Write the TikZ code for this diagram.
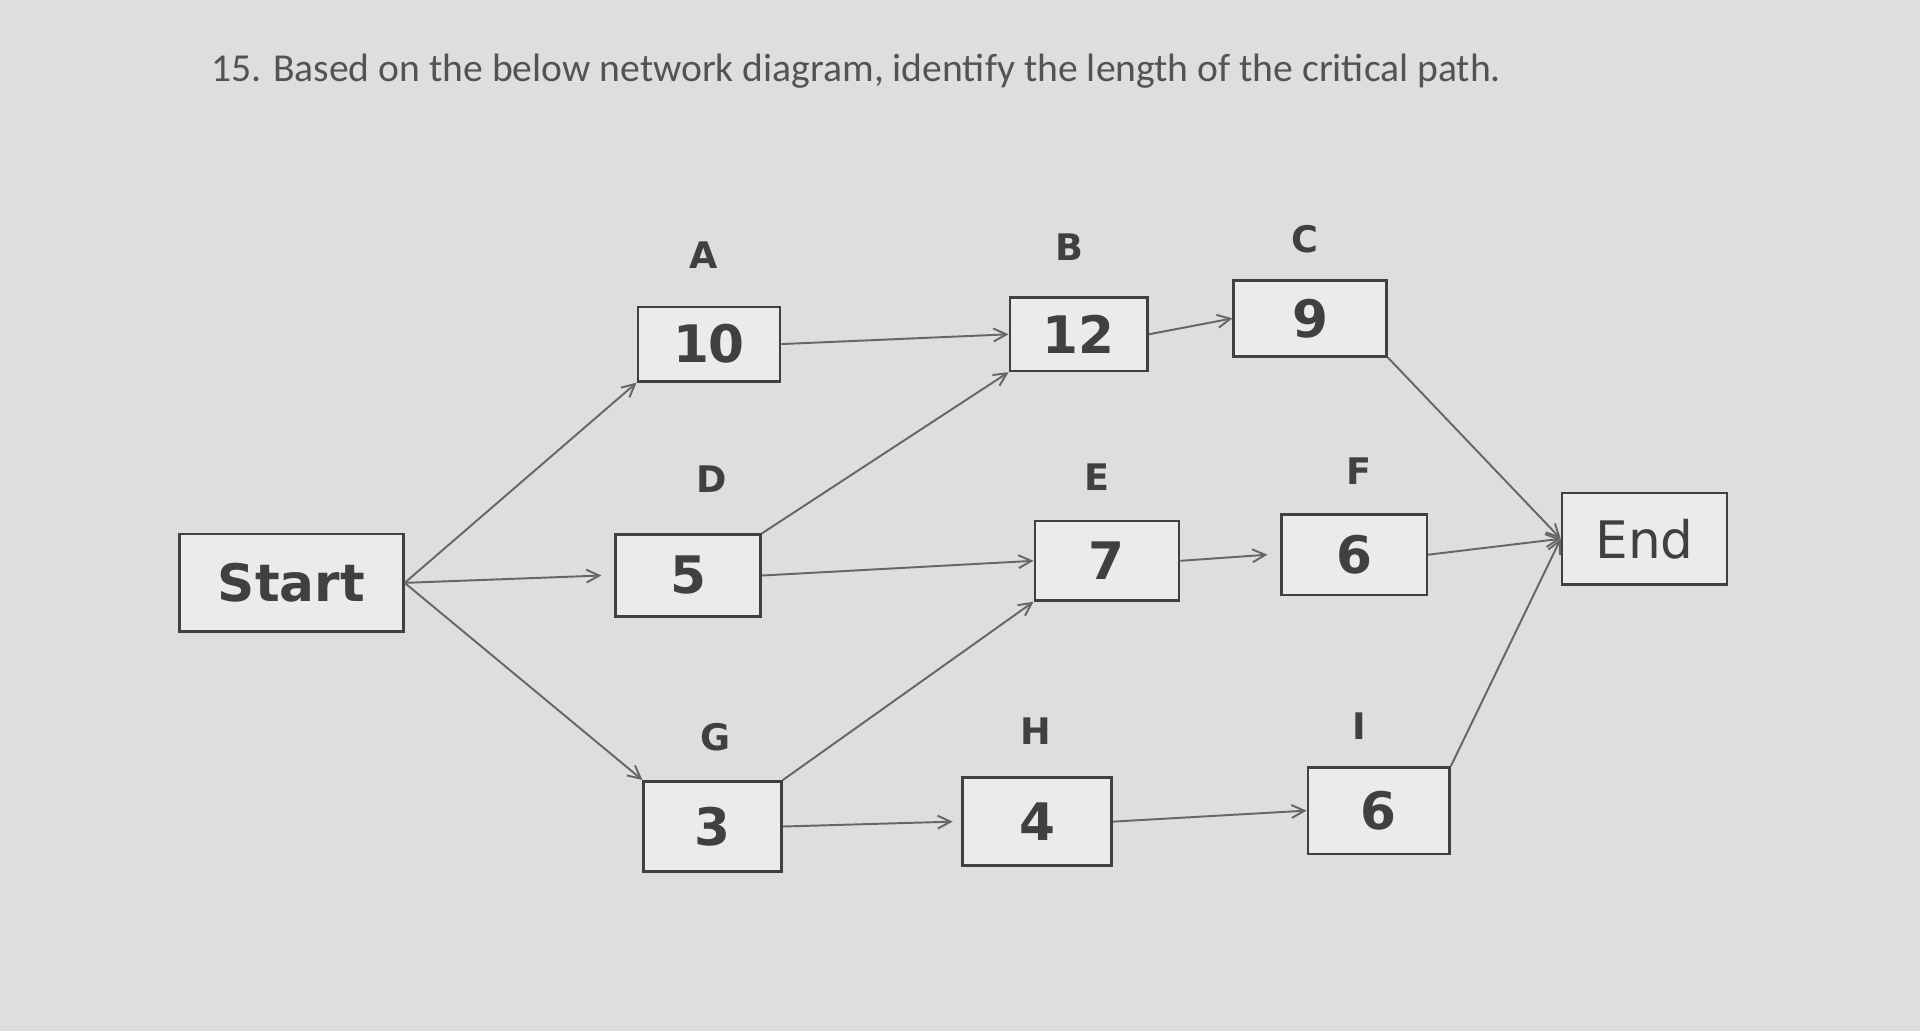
\documentclass[tikz,border=0pt]{standalone}
\usepackage{fontspec}
\setmainfont{DejaVu Sans}
\newfontfamily\titlefont{Carlito}
\usetikzlibrary{arrows.meta}
\definecolor{bg}{HTML}{DCDFDD}
\definecolor{ink}{HTML}{404040}
\begin{document}
\begin{tikzpicture}[x=0.01cm,y=-0.01cm,
  box/.style={draw=ink,line width=0.6pt,fill=bg!60!white,text=ink,font=\bfseries\fontsize{12}{14}\selectfont,inner sep=0pt},
  lab/.style={text=ink,font=\bfseries\fontsize{8.5}{10}\selectfont},
  conn/.style={draw=ink!80,line width=0.45pt,-{Straight Barb[length=3pt,width=3pt]}}]
\fill[bg] (0,0) rectangle (1568,842);
\useasboundingbox (0,0) rectangle (1568,842);
\node[anchor=west,text=ink!90,font=\titlefont\fontsize{9.2}{11}\selectfont] (title) at (160,58) {15. Based on the below network diagram, identify the length of the critical path.};
\node[box,minimum width=52pt,minimum height=22.7pt] (S) at (238,476) {Start};
\node[box,minimum width=33pt,minimum height=17.3pt] (A) at (579,281) {10};
\node[box,minimum width=32pt,minimum height=17pt] (B) at (881,273) {12};
\node[box,minimum width=35.5pt,minimum height=17.6pt] (C) at (1070,260) {9};
\node[box,minimum width=33.7pt,minimum height=19pt] (D) at (562,470) {5};
\node[box,minimum width=33.5pt,minimum height=18.4pt] (E) at (904,458) {7};
\node[box,minimum width=33.7pt,minimum height=18.7pt] (F) at (1106,453) {6};
\node[box,minimum width=38.3pt,minimum height=21.3pt,font=\fontsize{12}{14}\selectfont] (End) at (1343,440) {End};
\node[box,minimum width=32pt,minimum height=21pt] (G) at (582,675) {3};
\node[box,minimum width=34.6pt,minimum height=20.4pt] (H) at (847,671) {4};
\node[box,minimum width=32.9pt,minimum height=20.1pt] (I) at (1126,662) {6};
\node[lab] (lA) at (575,208) {A};
\node[lab] (lB) at (873,202) {B};
\node[lab] (lC) at (1066,195) {C};
\node[lab] (lD) at (581,391) {D};
\node[lab] (lE) at (896,390) {E};
\node[lab] (lF) at (1110,385) {F};
\node[lab] (lG) at (584,602) {G};
\node[lab] (lH) at (846,597) {H};
\node[lab] (lI) at (1110,593) {I};
\draw[conn] (S.east) -- (A.south west);
\draw[conn] (S.east) -- ([xshift=-3pt]D.west);
\draw[conn] (S.east) -- (G.north west);
\draw[conn] (A.east) -- (B.west);
\draw[conn] (B.east) -- (C.west);
\draw[conn] (D.north east) -- (B.south west);
\draw[conn] (D.east) -- (E.west);
\draw[conn] (G.north east) -- (E.south west);
\draw[conn] (G.east) -- ([xshift=-2pt]H.west);
\draw[conn] (E.east) -- ([xshift=-3pt]F.west);
\draw[conn] (H.east) -- (I.west);
\draw[conn] (C.south east) -- (End.west);
\draw[conn] (F.east) -- (End.west);
\draw[conn] (I.north east) -- (End.west);
\end{tikzpicture}
\end{document}
